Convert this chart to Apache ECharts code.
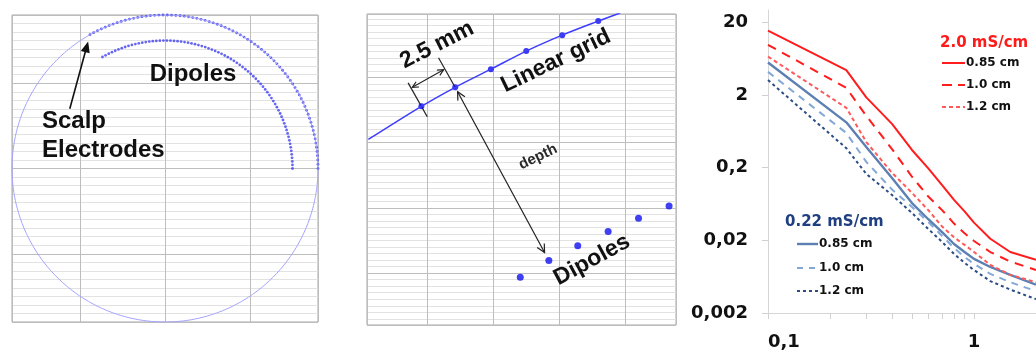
<!DOCTYPE html>
<html>
<head>
<meta charset="utf-8">
<script src="https://cdn.jsdelivr.net/npm/echarts@6/dist/echarts.min.js"></script>
<style>
  html, body { margin: 0; padding: 0; background: #ffffff; }
  #chart { width: 1036px; height: 352px; }
</style>
</head>
<body>
<div id="chart"></div>
<script>
// ---- Panel A: spherical head model (cm) ----
const headRadiusCm = 9;
const dipoleRadiusCm = 7.5;
const arcRangeDeg = [0, 120];
const electrodeSpacingCm = 0.25;

// ---- Panel B: close-up of the linear grid (mm) ----
const gridElecX = [-0.34, 1.71, 3.87, 6.01, 8.19, 10.37];
const gridElecY = [10.23, 11.40, 12.51, 13.62, 14.60, 15.46];
const gridLineEndX = [-3.55, 11.70];
const gridLineEndY = [8.20, 15.96];
const gridDipX = [5.65, 7.38, 9.13, 10.97, 12.81, 14.66];
const gridDipY = [-0.25, 0.78, 1.68, 2.55, 3.37, 4.12];

// ---- Panel C: log-log curves ----
const xValues = [0.1, 0.24, 0.3, 0.4, 0.5, 0.6, 0.7, 0.8, 0.9, 1.0, 1.2, 1.5, 2.0];
const red085  = [15.4, 4.4, 1.85, 0.80, 0.35, 0.195, 0.115, 0.072, 0.050, 0.035, 0.021, 0.0138, 0.0108];
const red100  = [9.8, 2.5, 1.03, 0.36, 0.15, 0.080, 0.052, 0.034, 0.025, 0.0196, 0.0138, 0.0102, 0.0078];
const red120  = [6.75, 1.33, 0.45, 0.17, 0.090, 0.052, 0.031, 0.022, 0.0173, 0.0138, 0.0092, 0.0067, 0.0053];
const blue085 = [5.6, 0.84, 0.385, 0.144, 0.065, 0.039, 0.026, 0.0178, 0.0138, 0.0111, 0.0086, 0.0067, 0.0049];
const blue100 = [4.15, 0.60, 0.24, 0.100, 0.0576, 0.0358, 0.023, 0.0157, 0.0118, 0.0095, 0.0069, 0.0053, 0.0040];
const blue120 = [3.2, 0.37, 0.164, 0.084, 0.0476, 0.0286, 0.019, 0.013, 0.0098, 0.0078, 0.0055, 0.0042, 0.0031];
const yTickValues = [0.002, 0.02, 0.2, 2, 20];
const yTickLabels = ['0,002', '0,02', '0,2', '2', '20'];
const xTickValues = [0.1, 1];
const xTickLabels = ['0,1', '1'];
const xMinorTicks = [0.1, 0.2, 0.3, 0.4, 0.5, 0.6, 0.7, 0.8, 0.9, 1, 2];
const xRange = [0.1, 2];
const yRange = [0.002, 29.5];

// ---------------------------------------------------------------
const deg = Math.PI / 180;
const arcPoints = (r, a0, a1, stepRad) => {
  const pts = [];
  for (let a = a0; a <= a1 + 1e-9; a += stepRad) pts.push([r * Math.cos(a), r * Math.sin(a)]);
  return pts;
};
// electrodes and dipoles share the same angular step (radial depth)
const angStep = electrodeSpacingCm / headRadiusCm;
const scalpElectrodes = arcPoints(headRadiusCm, arcRangeDeg[0] * deg, arcRangeDeg[1] * deg, angStep);
const dipoleArc = arcPoints(dipoleRadiusCm, arcRangeDeg[0] * deg, arcRangeDeg[1] * deg, angStep);
const headOutline = arcPoints(headRadiusCm, 0, 2 * Math.PI, Math.PI / 180);

const cellMm = 4; // grid cell size in panel B
const toCell = (xs, ys) => xs.map((x, i) => [x / cellMm, ys[i] / cellMm]);
const elecPts = toCell(gridElecX, gridElecY);
const dipPts = toCell(gridDipX, gridDipY);
const linePts = [[gridLineEndX[0] / cellMm, gridLineEndY[0] / cellMm]]
  .concat(elecPts, [[gridLineEndX[1] / cellMm, gridLineEndY[1] / cellMm]]);

const L10 = Math.log10;
const yBase = yTickValues[0];
const toLog = vals => xValues.map((x, i) => [L10(x), L10(vals[i] / yBase)]);

const RED = '#ff1c1c', RED_LIGHT = '#ff5a5a';
const BLUE = '#5c80b3', BLUE_LIGHT = '#82a8d8', BLUE_DARK = '#2c4c86';

const gridAxisCommon = {
  type: 'value',
  axisLabel: { show: false },
  axisTick: { show: false },
  axisLine: { show: false },
  splitLine: { show: true, lineStyle: { color: '#bdbdbd', width: 1 } }
};
const minorLines = {
  minorTick: { show: false, splitNumber: 10 },
  minorSplitLine: { show: true, lineStyle: { color: '#e2e2e2', width: 1 } }
};

const labelFont = { fontFamily: '"DejaVu Sans"', fontWeight: 'bold', fontSize: 18, color: '#111' };

const option = {
  animation: false,
  backgroundColor: '#ffffff',
  grid: [
    { left: 12, top: 15, width: 306, height: 307, show: true, borderColor: '#a6a6a6', borderWidth: 1 },
    { left: 367, top: 14, width: 309, height: 311, show: true, borderColor: '#a6a6a6', borderWidth: 1 },
    { left: 768, top: 10, width: 270, height: 303 }
  ],
  xAxis: [
    Object.assign({}, gridAxisCommon, { gridIndex: 0, min: -headRadiusCm, max: headRadiusCm, splitNumber: 4 }),
    Object.assign({}, gridAxisCommon, { gridIndex: 1, min: -0.908, max: 3.77 }),
    {
      type: 'value', gridIndex: 2, position: 'bottom', min: L10(xRange[0]), max: L10(xRange[1]),
      axisLine: { show: true, onZero: false, lineStyle: { color: '#d6d6d6', width: 1 } },
      axisTick: { show: true, length: 6, lineStyle: { color: '#d0d0d0' }, customValues: xMinorTicks.map(L10) },
      axisLabel: Object.assign({
        margin: 20,
        alignMinLabel: 'left',
        customValues: xTickValues.map(L10),
        formatter: v => xTickLabels[Math.round(v - L10(xTickValues[0]))]
      }, labelFont),
      splitLine: { show: false }
    }
  ],
  yAxis: [
    Object.assign({}, gridAxisCommon, minorLines, { gridIndex: 0, min: -headRadiusCm, max: headRadiusCm, splitNumber: 4 }),
    Object.assign({}, gridAxisCommon, minorLines, { gridIndex: 1, min: -0.795, max: 3.974 }),
    {
      type: 'value', gridIndex: 2, position: 'left', min: 0, max: L10(yRange[1] / yBase),
      axisLine: { show: true, onZero: false, lineStyle: { color: '#d6d6d6', width: 1 } },
      axisTick: { show: true, length: 6, lineStyle: { color: '#d0d0d0' }, customValues: yTickValues.map(v => L10(v / yBase)) },
      axisLabel: Object.assign({
        margin: 20,
        customValues: yTickValues.map(v => L10(v / yBase)),
        formatter: v => yTickLabels[Math.round(v)]
      }, labelFont),
      splitLine: { show: false }
    }
  ],
  series: [
    // Panel A
    { type: 'line', xAxisIndex: 0, yAxisIndex: 0, data: headOutline, symbol: 'none',
      lineStyle: { color: '#a3a3ff', width: 1 }, silent: true },
    { type: 'scatter', xAxisIndex: 0, yAxisIndex: 0, data: scalpElectrodes, symbolSize: 2.8,
      itemStyle: { color: '#3636ee' } },
    { type: 'scatter', xAxisIndex: 0, yAxisIndex: 0, data: dipoleArc, symbolSize: 2.8,
      itemStyle: { color: '#4040f0' } },
    // Panel B
    { type: 'line', xAxisIndex: 1, yAxisIndex: 1, data: linePts, symbol: 'none', smooth: 0.3,
      lineStyle: { color: '#3d3dff', width: 1.5 } },
    { type: 'scatter', xAxisIndex: 1, yAxisIndex: 1, data: elecPts, symbolSize: 6,
      itemStyle: { color: '#0c0ce8' } },
    { type: 'scatter', xAxisIndex: 1, yAxisIndex: 1, data: dipPts, symbolSize: 7,
      itemStyle: { color: '#1010f0' } },
    // Panel C
    { name: '0.22 mS/cm 1.2 cm', type: 'line', xAxisIndex: 2, yAxisIndex: 2, data: toLog(blue120), symbol: 'none',
      lineStyle: { color: BLUE_DARK, width: 2, type: [3, 3] } },
    { name: '0.22 mS/cm 1.0 cm', type: 'line', xAxisIndex: 2, yAxisIndex: 2, data: toLog(blue100), symbol: 'none',
      lineStyle: { color: BLUE_LIGHT, width: 2, type: [7, 6] } },
    { name: '0.22 mS/cm 0.85 cm', type: 'line', xAxisIndex: 2, yAxisIndex: 2, data: toLog(blue085), symbol: 'none',
      lineStyle: { color: BLUE, width: 2.4 } },
    { name: '2.0 mS/cm 1.2 cm', type: 'line', xAxisIndex: 2, yAxisIndex: 2, data: toLog(red120), symbol: 'none',
      lineStyle: { color: RED_LIGHT, width: 2, type: [4, 3] } },
    { name: '2.0 mS/cm 1.0 cm', type: 'line', xAxisIndex: 2, yAxisIndex: 2, data: toLog(red100), symbol: 'none',
      lineStyle: { color: RED, width: 2, type: [9, 7] } },
    { name: '2.0 mS/cm 0.85 cm', type: 'line', xAxisIndex: 2, yAxisIndex: 2, data: toLog(red085), symbol: 'none',
      lineStyle: { color: RED, width: 2 } }
  ]
};

const chart = echarts.init(document.getElementById('chart'), null, { renderer: 'canvas' });
chart.setOption(option);

// ---- annotations ----
const toPx = (gi, p) => chart.convertToPixel({ gridIndex: gi }, p);
const sub = (a, b) => [a[0] - b[0], a[1] - b[1]];
const add = (a, b) => [a[0] + b[0], a[1] + b[1]];
const mul = (a, k) => [a[0] * k, a[1] * k];
const unit = a => { const l = Math.hypot(a[0], a[1]); return [a[0] / l, a[1] / l]; };

function head(tip, dir, size, filled) {
  const u = unit(dir);
  const base = sub(tip, mul(u, size));
  const w = size * (filled ? 0.42 : 0.5);
  const p1 = [base[0] - u[1] * w, base[1] + u[0] * w];
  const p2 = [base[0] + u[1] * w, base[1] - u[0] * w];
  return filled
    ? { type: 'polygon', shape: { points: [tip, p1, p2] }, style: { fill: '#111' } }
    : { type: 'polyline', shape: { points: [p1, tip, p2] }, style: { stroke: '#222', lineWidth: 1.2, fill: null } };
}
function segment(a, b, width, color) {
  return { type: 'line', shape: { x1: a[0], y1: a[1], x2: b[0], y2: b[1] },
           style: { stroke: color || '#222', lineWidth: width || 1.2 } };
}
function label(text, x, y, font, opts) {
  return { type: 'text', x: x, y: y, rotation: (opts && opts.rot) || 0,
    style: { text: text, font: font, fill: (opts && opts.fill) || '#111',
             align: (opts && opts.align) || 'center', verticalAlign: 'middle' } };
}

const g = [];
const bigFont = 'bold 24px "Liberation Sans"';

// Panel A: arrow to the first scalp electrode, labels
const firstElec = toPx(0, scalpElectrodes[scalpElectrodes.length - 1]);
const arrowTail = toPx(0, [-5.6, 3.5]);
const aDir = unit(sub(firstElec, arrowTail));
const aTip = sub(firstElec, mul(aDir, 7));
g.push(segment(arrowTail, sub(aTip, mul(aDir, 6)), 1.6, '#111'));
g.push(head(aTip, aDir, 11, true));
g.push(label('Dipoles', 193, 74, bigFont));
g.push(label('Scalp', 42, 121, bigFont, { align: 'left' }));
g.push(label('Electrodes', 42, 150, bigFont, { align: 'left' }));

// Panel B: spacing marker and depth arrow
const e1 = toPx(1, elecPts[0]);
const e2 = toPx(1, elecPts[1]);
const d2 = toPx(1, dipPts[1]);
const u = unit(sub(e2, e1));
const n = [u[1], -u[0]]; // outward normal
g.push(segment(add(e1, mul(n, -12)), add(e1, mul(n, 27)), 1.2));
g.push(segment(add(e2, mul(n, -1)), add(e2, mul(n, 34)), 1.2));
const s1 = add(add(e1, mul(n, 21)), mul(u, 1.5));
const s2 = sub(add(e2, mul(n, 21)), mul(u, 1.5));
g.push(segment(s1, s2, 1.1));
g.push(head(s1, sub(s1, s2), 6, false));
g.push(head(s2, sub(s2, s1), 6, false));
const dv = unit(sub(d2, e2));
const t1 = add(e2, mul(dv, 5));
const t2 = sub(d2, mul(dv, 9));
g.push(segment(t1, t2, 1.2));
g.push(head(t1, mul(dv, -1), 8, false));
g.push(head(t2, dv, 8, false));
g.push(label('2.5 mm', 437, 45, 'bold 23px "Liberation Sans"', { rot: 0.47 }));
g.push(label('Linear grid', 556, 61, 'bold 23px "Liberation Sans"', { rot: 0.45 }));
g.push(label('depth', 538, 157, 'bold 15px "Liberation Sans"', { rot: 0.45, fill: '#2a2a2a' }));
g.push(label('Dipoles', 592, 260, 'bold 23px "Liberation Sans"', { rot: 0.5 }));

// Panel C: legends
const legFont = 'bold 12px "DejaVu Sans"';
const titleFont = 'bold 15px "DejaVu Sans"';
function legendRow(x0, x1, y, color, dash, width, text) {
  g.push({ type: 'line', shape: { x1: x0, y1: y, x2: x1, y2: y },
           style: { stroke: color, lineWidth: width, lineDash: dash } });
  g.push(label(text, x1 + 1, y, legFont, { align: 'left' }));
}
g.push(label('2.0 mS/cm', 940, 43, titleFont, { align: 'left', fill: '#ff1a1a' }));
legendRow(942, 965, 63, RED, null, 2, '0.85 cm');
legendRow(942, 965, 85, RED, [10, 6], 2, '1.0 cm');
legendRow(942, 965, 107, RED_LIGHT, [4, 3], 2, '1.2 cm');
g.push(label('0.22 mS/cm', 785, 222, titleFont, { align: 'left', fill: '#1f3f80' }));
legendRow(797, 818, 244, BLUE, null, 2.4, '0.85 cm');
legendRow(797, 818, 268, BLUE_LIGHT, [6, 6], 2, '1.0 cm');
legendRow(797, 818, 291, BLUE_DARK, [3, 3], 2, '1.2 cm');

chart.setOption({ graphic: { elements: g } });
</script>
</body>
</html>
